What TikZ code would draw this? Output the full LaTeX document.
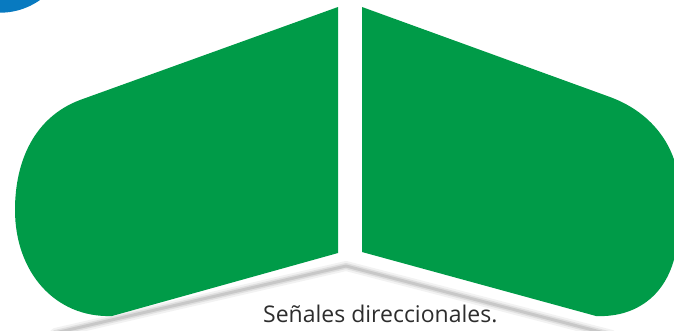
\documentclass[tikz,border=0pt]{standalone}
\usepackage{fontspec}
\setmainfont{Open Sans}
\usepackage{tikz}
\definecolor{panelgreen}{RGB}{0, 155, 72}
\definecolor{cornerblue}{RGB}{8, 122, 192}
\definecolor{captiongray}{RGB}{45, 45, 45}
\tikzset{
 panel/.style={
 fill=panelgreen,
 draw=none
 },
 shadowline/.style={
 draw=black,
 line join=round,
 line cap=round
 },
 caption/.style={
 anchor=base west,
 inner sep=0pt,
 text depth=0pt,
 text=captiongray,
 font=\fontsize{23}{26}\selectfont
 }
}

\begin{document}
\begin{tikzpicture}[x=1pt, y=-1pt]
 \useasboundingbox (0,0) rectangle (674,330);
 \clip (0,0) rectangle (674,330);

 % corner disc
 \fill[cornerblue] (0,-56.6) circle (69.3);

 % soft shadow under the fold
 \coordinate (shadowleft) at (55,333);
 \coordinate (shadowtip) at (346,266);
 \coordinate (shadowright) at (612,335);
 \draw[shadowline, draw opacity=0.05, line width=10] (shadowleft) -- (shadowtip) -- (shadowright);
 \draw[shadowline, draw opacity=0.08, line width=6] (shadowleft) -- (shadowtip) -- (shadowright);
 \draw[shadowline, draw opacity=0.10, line width=3] (shadowleft) -- (shadowtip) -- (shadowright);

 % left panel
 \fill[panel] (338,7) -- (80,100)
 .. controls (35,117) and (15,160) .. (15,210)
 .. controls (15,272) and (55,318) .. (112,316)
 -- (338,253) -- cycle;

 % right panel
 \fill[panel] (362,7) -- (610,97)
 .. controls (648,111) and (672,140) .. (678,175)
 -- (678,232)
 .. controls (676,290) and (640,318) .. (596,316)
 -- (362,252) -- cycle;

 \node[caption] (label) at (263,322) {Señales direccionales.};
\end{tikzpicture}
\end{document}
